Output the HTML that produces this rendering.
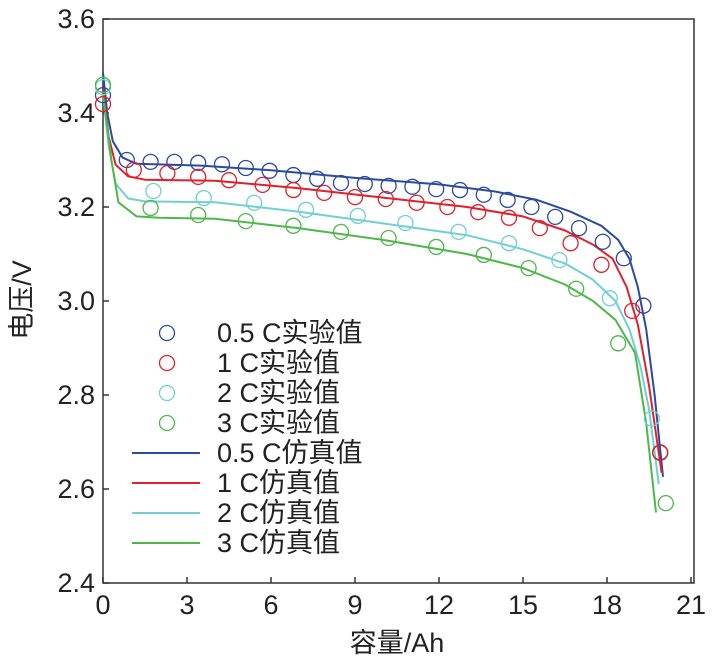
<!DOCTYPE html>
<html><head><meta charset="utf-8"><style>
body{margin:0;background:#fff;}
svg text{font-family:"Liberation Sans","Noto Sans CJK SC",sans-serif;fill:#222;}
</style></head><body>
<svg id="chart" width="713" height="662" viewBox="0 0 713 662" xmlns="http://www.w3.org/2000/svg">
<g id="plot"></g>
</svg>
<script>
const xTicks=[0,3,6,9,12,15,18,21];
const yTicks=[2.4,2.6,2.8,3.0,3.2,3.4,3.6];
const yTickLabels=["2.4","2.6","2.8","3.0","3.2","3.4","3.6"];
const seriesNames=["0.5 C","1 C","2 C","3 C"];
const expBlueX=[0,0.85,1.7,2.55,3.4,4.25,5.1,5.95,6.8,7.65,8.5,9.35,10.2,11.05,11.9,12.75,13.6,14.45,15.3,16.15,17.0,17.85,18.6,19.3,19.9];
const expBlueV=[3.438,3.300,3.296,3.296,3.294,3.291,3.283,3.277,3.268,3.260,3.251,3.249,3.245,3.243,3.238,3.236,3.226,3.215,3.200,3.179,3.155,3.126,3.091,2.99,2.678];
const expRedX=[0,1.1,2.3,3.4,4.5,5.7,6.8,7.9,9.0,10.1,11.2,12.3,13.4,14.5,15.6,16.7,17.8,18.9,19.9];
const expRedV=[3.419,3.279,3.272,3.264,3.257,3.247,3.236,3.230,3.221,3.217,3.209,3.200,3.189,3.177,3.155,3.123,3.077,2.979,2.677];
const expCyanX=[0,1.8,3.6,5.4,7.25,9.1,10.8,12.7,14.5,16.3,18.1,19.6];
const expCyanV=[3.455,3.234,3.219,3.209,3.194,3.181,3.166,3.147,3.123,3.087,3.006,2.75];
const expGreenX=[0,1.7,3.4,5.1,6.8,8.5,10.2,11.9,13.6,15.2,16.9,18.4,20.1];
const expGreenV=[3.46,3.198,3.183,3.170,3.160,3.147,3.134,3.115,3.098,3.070,3.026,2.91,2.57];
const simBlueX=[0,0.15,0.35,0.7,1.2,3.5,6,9,12,14,15.5,16.7,17.8,18.4,18.8,19.1,19.4,19.7,20.0];
const simBlueV=[3.486,3.40,3.34,3.305,3.292,3.288,3.278,3.262,3.248,3.233,3.215,3.19,3.16,3.13,3.09,3.03,2.94,2.80,2.626];
const simRedX=[0,0.2,0.45,0.9,1.5,4,7,10,13,15,16.5,17.5,18.2,18.7,19.1,19.5,19.95];
const simRedV=[3.45,3.35,3.29,3.265,3.258,3.256,3.24,3.22,3.2,3.18,3.15,3.12,3.09,3.03,2.95,2.82,2.635];
const simCyanX=[0,0.2,0.45,0.9,1.5,4,7,10,13,15,16.5,17.5,18.3,18.8,19.2,19.5,19.85];
const simCyanV=[3.44,3.33,3.25,3.218,3.212,3.21,3.19,3.165,3.14,3.11,3.08,3.045,3.0,2.94,2.86,2.77,2.61];
const simGreenX=[0,0.3,0.55,1.2,2,4,7,10,13,15,16.5,17.5,18.3,19.0,19.4,19.75];
const simGreenV=[3.44,3.30,3.21,3.18,3.177,3.175,3.155,3.13,3.1,3.07,3.035,3.0,2.96,2.89,2.74,2.55];
const colors=["#2b4aa0","#e0202a","#6fcfd2","#4cb848"];
const NS="http://www.w3.org/2000/svg";
const L=103,R=694,T=19,B=583;
function xs(v){return L+(v-0)/21*(691-L);}
function ys(v){return B-(v-2.4)/1.2*(B-T);}
const g=document.getElementById('plot');
function mk(tag,attrs){const e=document.createElementNS(NS,tag);for(const k in attrs)e.setAttribute(k,attrs[k]);g.appendChild(e);return e;}
const frame=mk('rect',{x:L,y:T,width:R-L,height:B-T,fill:'none',stroke:'#333','stroke-width':1.5});


xTicks.forEach(t=>{
  const tk=mk('line',{x1:xs(t),x2:xs(t),y1:B,y2:B-6,stroke:'#333','stroke-width':1.5});
  
  
  const tx=mk('text',{x:xs(t),y:B+31,'text-anchor':'middle','font-size':27});
  tx.textContent=t;
  
  
});
yTicks.forEach((t,i)=>{
  const tk=mk('line',{x1:L,x2:L+6,y1:ys(t),y2:ys(t),stroke:'#333','stroke-width':1.5});
  
  
  const tx=mk('text',{x:L-8,y:ys(t)+9,'text-anchor':'end','font-size':27});
  tx.textContent=yTickLabels[i];
  
  
});
const xt=mk('text',{x:397,y:652,'text-anchor':'middle','font-size':27});
xt.textContent='容量/Ah';


const yt=mk('text',{x:0,y:0,'text-anchor':'middle','font-size':27,transform:'translate(31,300) rotate(-90)'});
yt.textContent='电压/V';


const sims=[[simBlueX,simBlueV],[simRedX,simRedV],[simCyanX,simCyanV],[simGreenX,simGreenV]];
const exps=[[expBlueX,expBlueV],[expRedX,expRedV],[expCyanX,expCyanV],[expGreenX,expGreenV]];
sims.forEach((s,i)=>{
  const d=s[0].map((x,j)=>(j?'L':'M')+xs(x).toFixed(1)+' '+ys(s[1][j]).toFixed(1)).join(' ');
  const p=mk('path',{d:d,fill:'none',stroke:colors[i],'stroke-width':2,'stroke-linejoin':'round'});
  
  
});
exps.forEach((s,i)=>{
  s[0].forEach((x,j)=>{
    const c=mk('circle',{cx:xs(x),cy:ys(s[1][j]),r:7.5,fill:'none',stroke:colors[i],'stroke-width':1.3});
    
    
  });
});
seriesNames.forEach((n,i)=>{
  const y=333+30*i;
  const c=mk('circle',{cx:167,cy:y,r:7.5,fill:'none',stroke:colors[i],'stroke-width':1.3});
  
  
  const t=mk('text',{x:217,y:y+9,'font-size':27});
  t.textContent=n+'实验值';
  
  
  const y2=453+30*i;
  const l=mk('line',{x1:132,x2:200,y1:y2,y2:y2,stroke:colors[i],'stroke-width':2});
  
  
  const t2=mk('text',{x:217,y:y2+9,'font-size':27});
  t2.textContent=n+'仿真值';
  
  
});
</script>
</body></html>
